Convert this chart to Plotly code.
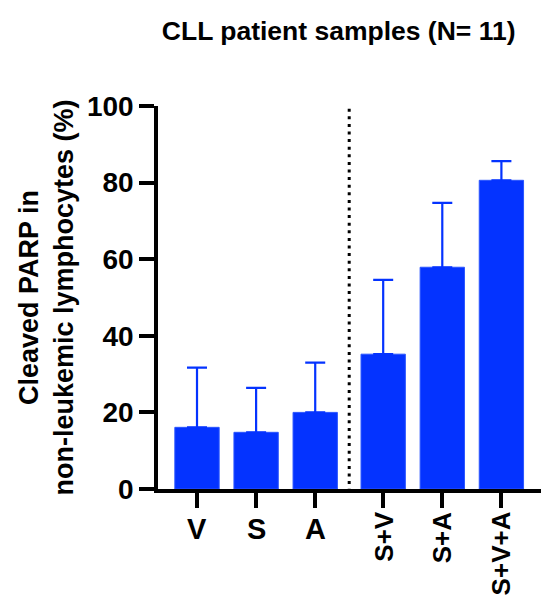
import plotly.graph_objects as go

categories = ["V", "S", "A", "S+V", "S+A", "S+V+A"]
means = [16.1, 14.8, 20.0, 35.2, 57.9, 80.6]
sd = [15.6, 11.6, 13.0, 19.4, 16.8, 5.0]
y_ticks = [0, 20, 40, 60, 80, 100]

GAP = 0.15
xpos = [i + (GAP if i >= 3 else 0) for i in range(len(categories))]
BLUE = "#0433ff"
FONT = "Liberation Sans, Arial, sans-serif"

fig = go.Figure()
fig.add_trace(go.Bar(
    x=xpos, y=means, width=0.75,
    marker=dict(color=BLUE, line=dict(color="#2a55ff", width=1)),
    error_y=dict(type="data", symmetric=False, array=sd, arrayminus=[0]*len(sd),
                 color=BLUE, thickness=2.2, width=10),
))

# divider between single and combination treatments
div_x = (xpos[2] + xpos[3]) / 2
fig.add_shape(type="line", xref="x", yref="y", x0=div_x, x1=div_x, y0=-0.7, y1=100,
              line=dict(color="black", width=3, dash="3px,4.6px"))

# category labels
for xv, lab in zip(xpos, categories):
    if len(lab) == 1:
        fig.add_annotation(x=xv, y=0, xref="x", yref="paper", text="<b>" + lab + "</b>",
                           showarrow=False, yanchor="top", yshift=-22,
                           font=dict(size=29, family=FONT, color="black"))
    else:
        fig.add_annotation(x=xv, y=0, xref="x", yref="paper", text="<b>" + lab + "</b>",
                           showarrow=False, textangle=-90, yanchor="top", yshift=-20,
                           font=dict(size=26, family=FONT, color="black"))

fig.update_layout(
    width=548, height=606,
    margin=dict(l=158, r=7, t=106, b=117),
    plot_bgcolor="white", paper_bgcolor="white",
    showlegend=False,
    font=dict(family=FONT, color="black"),
    title=dict(text="<b>CLL patient samples (N= 11)</b>", x=0.618, xanchor="center",
               y=0.95, yanchor="middle", font=dict(size=26.5, family=FONT, color="black")),
    xaxis=dict(range=[-0.66, 5.82], tickvals=xpos, ticktext=[""]*len(xpos),
               showgrid=False, zeroline=False, showline=True, linecolor="black", linewidth=3.5,
               ticks="outside", ticklen=15, tickwidth=3.5, tickcolor="black"),
    yaxis=dict(range=[0, 100], tickvals=y_ticks,
               ticktext=["<b>%d</b>" % v for v in y_ticks],
               showgrid=False, zeroline=False,
               showline=True, linecolor="black", linewidth=3.5,
               ticks="outside", ticklen=15, tickwidth=3.5, tickcolor="black",
               tickfont=dict(size=28, family=FONT, color="black"),
               title=dict(text="<b>Cleaved PARP in<br>non-leukemic lymphocytes (%)</b>",
                          font=dict(size=27, family=FONT, color="black"), standoff=6)),
)

fig.write_html("out.html")
